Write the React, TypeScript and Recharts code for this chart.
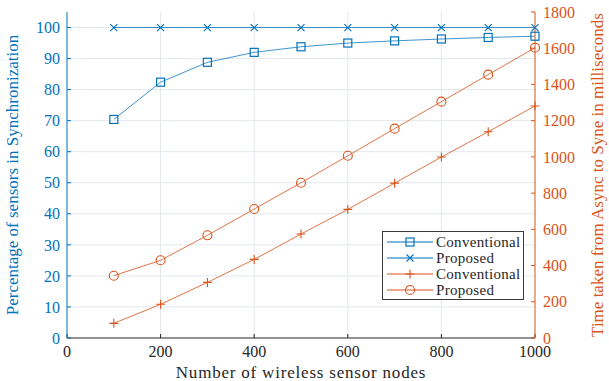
import {
  ComposedChart,
  Line,
  XAxis,
  YAxis,
  CartesianGrid,
} from 'recharts';

const nodes = [100, 200, 300, 400, 500, 600, 700, 800, 900, 1000];
const syncConventional = [70.4, 82.4, 88.8, 92.0, 93.8, 95.0, 95.7, 96.3, 96.8, 97.2];
const syncProposed = [100, 100, 100, 100, 100, 100, 100, 100, 100, 100];
const timeConventional = [81, 186, 307, 434, 574, 710, 855, 999, 1139, 1281];
const timeProposed = [344, 429, 567, 712, 857, 1006, 1156, 1305, 1454, 1603];

const xTicks = [0, 200, 400, 600, 800, 1000];
const leftTicks = [0, 10, 20, 30, 40, 50, 60, 70, 80, 90, 100];
const rightTicks = [0, 200, 400, 600, 800, 1000, 1200, 1400, 1600, 1800];

const BLUE = '#0072BD';
const ORANGE = '#D95319';
const DARK = '#262626';
const FONT = '"Liberation Serif", "Times New Roman", serif';

const chartData = nodes.map((n, i) => ({
  n,
  syncConventional: syncConventional[i],
  syncProposed: syncProposed[i],
  timeConventional: timeConventional[i],
  timeProposed: timeProposed[i],
}));

type Shape = 'square' | 'x' | 'plus' | 'circle';

function Marker({ cx, cy, shape, color }: { cx: number; cy: number; shape: Shape; color: string }) {
  if (cx == null || cy == null) return null;
  const r = 4;
  if (shape === 'square') {
    return <rect x={cx - r} y={cy - r} width={r * 2} height={r * 2} fill="none" stroke={color} strokeWidth={1.2} />;
  }
  if (shape === 'circle') {
    return <circle cx={cx} cy={cy} r={r + 0.5} fill="none" stroke={color} strokeWidth={1.1} />;
  }
  if (shape === 'x') {
    return (
      <path d={`M${cx - 3.5},${cy - 3.5}L${cx + 3.5},${cy + 3.5}M${cx - 3.5},${cy + 3.5}L${cx + 3.5},${cy - 3.5}`} stroke={color} strokeWidth={1.1} />
    );
  }
  return <path d={`M${cx - 4.5},${cy}L${cx + 4.5},${cy}M${cx},${cy - 4.5}L${cx},${cy + 4.5}`} stroke={color} strokeWidth={1.1} />;
}

const dotFor = (shape: Shape, color: string) => (props: any) =>
  <Marker key={`${shape}-${props.index}`} cx={props.cx} cy={props.cy} shape={shape} color={color} />;

const legendItems: { name: string; shape: Shape; color: string }[] = [
  { name: 'Conventional', shape: 'square', color: BLUE },
  { name: 'Proposed', shape: 'x', color: BLUE },
  { name: 'Conventional', shape: 'plus', color: ORANGE },
  { name: 'Proposed', shape: 'circle', color: ORANGE },
];

function LegendBox() {
  return (
    <div
      style={{
        position: 'absolute',
        left: 382,
        top: 231,
        width: 142,
        height: 69,
        border: '1px solid #3a3a3a',
        background: '#fff',
        fontFamily: FONT,
        fontSize: 15,
        color: DARK,
        boxSizing: 'border-box',
        padding: '2px 0 0 4px',
      }}
    >
      {legendItems.map((it, i) => (
        <div key={i} style={{ display: 'flex', alignItems: 'center', height: 16, lineHeight: '16px' }}>
          <svg width={46} height={14} style={{ marginRight: 3 }}>
            <line x1={0} y1={7} x2={46} y2={7} stroke={it.color} strokeWidth={1.2} />
            <Marker cx={23} cy={7} shape={it.shape} color={it.color} />
          </svg>
          <span style={{ letterSpacing: 0.3 }}>{it.name}</span>
        </div>
      ))}
    </div>
  );
}

export default function App() {
  return (
    <div style={{ position: 'absolute', left: 0, top: 0, width: 609, height: 381, background: '#fff' }}>
      <ComposedChart
        width={609}
        height={381}
        data={chartData}
        margin={{ top: 12, right: 0, bottom: 0, left: 0 }}
        style={{ fontFamily: FONT }}
      >
        <CartesianGrid yAxisId="left" stroke="#e3e8ee" strokeWidth={1} horizontalValues={leftTicks.slice(1)} verticalValues={xTicks.slice(1, -1)} />
        <XAxis
          dataKey="n"
          type="number"
          domain={[0, 1000]}
          ticks={xTicks}
          height={43}
          stroke={DARK}
          tickSize={-4}
          tickMargin={12}
          tick={{ fill: DARK, fontSize: 16 }}
          label={{ value: 'Number of wireless sensor nodes', position: 'insideBottom', offset: 3, fill: DARK, fontSize: 17, style: { letterSpacing: 0.8 } }}
        />
        <YAxis
          yAxisId="left"
          domain={[0, 105]}
          ticks={leftTicks}
          width={67}
          stroke={BLUE}
          tickSize={-4}
          tickMargin={11}
          tick={{ fill: BLUE, fontSize: 16 }}
          label={{
            value: 'Percentage of sensors in Synchronization',
            angle: -90,
            position: 'insideLeft',
            offset: 12,
            fill: BLUE,
            fontSize: 17,
            style: { textAnchor: 'middle' },
          }}
        />
        <YAxis
          yAxisId="right"
          orientation="right"
          domain={[0, 1800]}
          ticks={rightTicks}
          width={74}
          stroke={ORANGE}
          tickSize={-4}
          tickMargin={12}
          tick={{ fill: ORANGE, fontSize: 16 }}
          label={{
            value: 'Time taken from Async to Syne in milliseconds',
            angle: -90,
            position: 'insideRight',
            offset: 12,
            fill: ORANGE,
            fontSize: 17,
            style: { textAnchor: 'middle' },
          }}
        />
        <Line yAxisId="left" dataKey="syncConventional" name="Conventional" stroke={BLUE} strokeWidth={1} strokeOpacity={0.75} dot={dotFor('square', BLUE)} isAnimationActive={false} />
        <Line yAxisId="left" dataKey="syncProposed" name="Proposed" stroke={BLUE} strokeWidth={1} strokeOpacity={0.75} dot={dotFor('x', BLUE)} isAnimationActive={false} />
        <Line yAxisId="right" dataKey="timeConventional" name="Conventional" stroke={ORANGE} strokeWidth={1} strokeOpacity={0.8} dot={dotFor('plus', ORANGE)} isAnimationActive={false} />
        <Line yAxisId="right" dataKey="timeProposed" name="Proposed" stroke={ORANGE} strokeWidth={1} strokeOpacity={0.8} dot={dotFor('circle', ORANGE)} isAnimationActive={false} />
      </ComposedChart>
      <LegendBox />
    </div>
  );
}
